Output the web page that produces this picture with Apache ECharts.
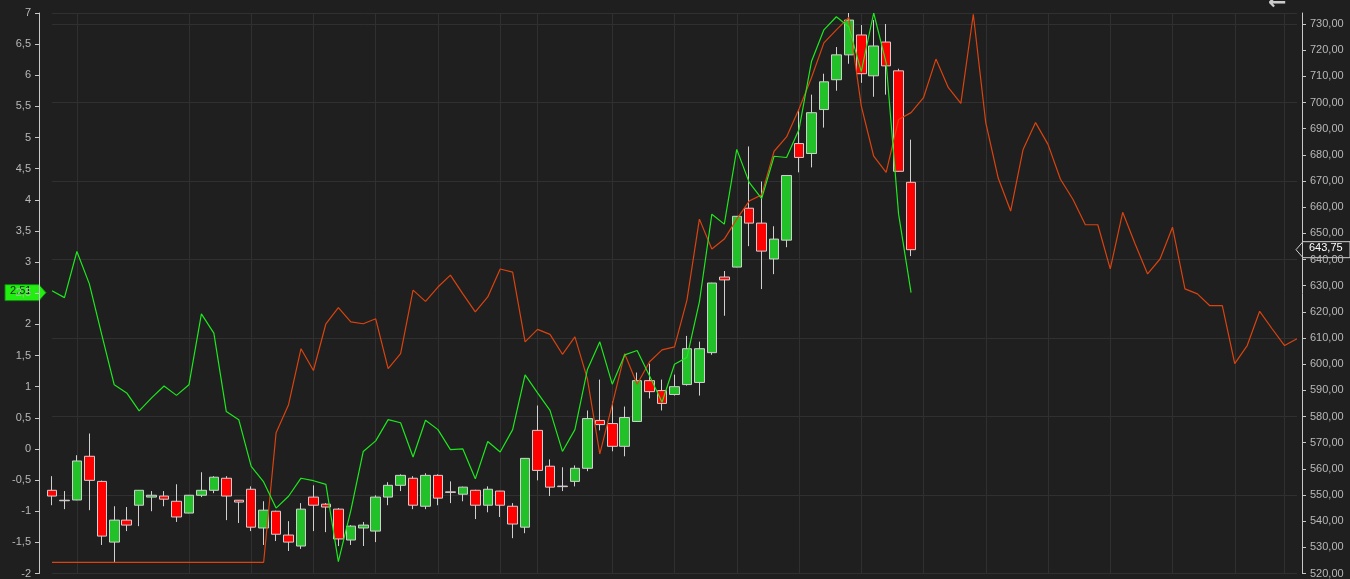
<!DOCTYPE html>
<html><head><meta charset="utf-8">
<script src="https://cdn.jsdelivr.net/npm/echarts@6/dist/echarts.min.js"></script>
<style>html,body{margin:0;background:#1f1f1f}#c{width:1350px;height:579px}</style>
</head><body><div id="c"></div>
<script>
// candles: [open, close, low, high]
const candles = [
[551.8,549.6,546.1,557.2],[548.0,547.8,544.6,551.5],[548.1,563.0,548.0,565.2],[564.8,555.6,544.2,573.5],
[555.2,534.3,530.9,555.5],[532.0,540.4,524.0,545.7],[540.4,538.5,536.2,545.4],[546.1,551.8,538.1,551.9],
[549.2,549.9,543.8,551.5],[549.6,548.4,545.7,551.5],[547.6,541.6,539.7,554.1],[543.1,549.9,543.0,550.0],
[549.9,551.8,549.2,558.7],[551.8,556.8,550.7,557.2],[556.4,549.6,540.4,557.2],[548.0,547.3,539.3,548.1],
[552.2,537.7,536.2,553.3],[537.4,544.2,530.9,547.6],[543.8,535.0,532.4,544.0],[534.7,532.0,528.6,540.0],
[530.5,544.6,529.4,546.9],[549.2,546.1,536.2,553.7],[546.5,545.4,535.8,546.9],[544.6,533.2,530.5,545.0],
[532.8,538.1,530.9,538.5],[537.4,538.5,530.5,539.7],[536.2,549.2,532.0,549.9],[549.2,553.7,546.1,554.9],
[553.7,557.5,551.5,557.9],[556.4,546.1,544.6,557.2],[545.7,557.5,544.6,558.3],[557.5,548.8,546.1,557.9],
[551.2,551.0,546.9,555.2],[550.3,553.0,547.6,553.2],[551.8,546.1,540.8,552.0],[546.1,552.2,543.4,553.3],
[551.5,546.1,541.6,551.6],[545.7,538.9,533.5,546.9],[537.7,564.0,535.4,564.1],[574.7,559.4,555.6,584.2],
[561.0,553.0,549.6,563.6],[553.4,553.2,551.5,560.6],[555.2,560.2,553.3,561.3],[560.2,579.2,559.1,582.3],
[578.5,576.9,574.7,594.1],[577.3,568.6,566.7,585.7],[568.6,579.6,564.8,583.8],[578.1,593.7,578.0,596.8],
[593.7,589.5,586.9,600.2],[589.9,585.0,582.3,594.1],[588.4,591.4,588.0,596.0],[592.2,605.9,591.8,610.8],
[593.0,605.9,588.0,608.6],[604.4,631.0,603.6,631.1],[633.3,632.2,618.5,635.6],[637.1,656.5,637.0,656.6],
[659.6,653.9,645.1,683.2],[653.9,643.2,628.7,669.8],[640.2,647.8,634.4,652.7],[647.4,672.1,644.7,672.2],
[684.3,679.0,673.3,697.3],[680.5,696.1,675.2,703.0],[697.3,707.9,690.4,711.0],[708.7,718.2,704.5,721.2],
[718.2,731.5,714.8,734.2],[725.8,711.0,707.5,729.6],[710.2,721.6,702.2,731.5],[723.1,714.0,703.0,730.0],
[712.1,673.7,673.6,712.9],[669.5,643.75,641.3,685.8]
];
const greenLine = [2.54,2.43,3.17,2.65,1.83,1.03,0.90,0.61,0.82,1.01,0.86,1.03,2.17,1.86,0.60,0.47,-0.28,-0.53,-0.95,-0.76,
-0.47,-0.51,-0.57,-1.81,-0.99,-0.04,0.13,0.47,0.42,-0.13,0.46,0.31,-0.01,0.00,-0.48,0.12,-0.05,0.31,1.19,0.90,
0.62,-0.04,0.31,1.27,1.72,1.04,1.51,1.58,1.17,0.75,1.36,1.47,2.36,3.77,3.61,4.81,4.28,4.02,4.70,4.68,
5.13,6.22,6.73,6.94,6.78,6.06,7.00,6.20,3.77,2.51];
const orangeLine = [-1.82,-1.82,-1.82,-1.82,-1.82,-1.82,-1.82,-1.82,-1.82,-1.82,-1.82,-1.82,-1.82,-1.82,-1.82,-1.82,-1.82,-1.82,
0.26,0.71,1.61,1.26,2.01,2.27,2.04,2.01,2.09,1.29,1.53,2.55,2.37,2.60,2.79,2.49,2.20,2.44,2.89,2.84,1.72,1.92,
1.84,1.52,1.80,1.13,-0.08,0.71,1.53,1.04,1.40,1.59,1.64,2.39,3.69,3.21,3.37,3.69,3.98,4.08,4.78,5.01,
5.46,5.96,6.52,6.73,6.93,5.51,4.70,4.44,5.29,5.40,5.64,6.26,5.80,5.55,6.98,5.24,4.35,3.82,4.81,5.24,
4.89,4.33,4.01,3.60,3.60,2.89,3.80,3.29,2.81,3.05,3.56,2.57,2.49,2.30,2.30,1.37,1.66,2.21,1.93,1.66,1.77];
const categories = orangeLine.map((_, i) => String(i));
const vGridIdx = [2,11,16,21,26,31,36,39,45,50,55,60,65,70,75,80,85,90,95,99];
const lastGreen = 2.51, lastClose = 643.75;

const fmt = v => String(v).replace('.', ',');
const chart = echarts.init(document.getElementById('c'));
const lab = {color:'#b8b8b8', fontSize:11, fontFamily:'Liberation Sans'};
chart.setOption({
  backgroundColor:'#1f1f1f',
  animation:false,
  grid:{left:52,right:53,top:13,bottom:3},
  xAxis:{type:'category',data:categories,boundaryGap:false,
    axisLine:{show:false},axisTick:{show:false},axisLabel:{show:false},
    splitLine:{show:true,interval:(i)=>vGridIdx.includes(i),lineStyle:{color:'#303030'}}},
  yAxis:[
    {type:'value',min:-2,max:7,interval:0.5,position:'left',offset:13,
     axisLine:{show:true,lineStyle:{color:'#c8c8c8'}},axisTick:{show:true,length:4,lineStyle:{color:'#c8c8c8'}},
     axisLabel:{...lab,margin:8,formatter:v=>fmt(v)},splitLine:{show:false}},
    {type:'value',min:520,max:734.2,interval:10,position:'right',offset:5,
     axisLine:{show:true,lineStyle:{color:'#c8c8c8'}},axisTick:{show:true,length:4,lineStyle:{color:'#c8c8c8'}},
     axisLabel:{...lab,margin:8,formatter:v=>v.toFixed(2).replace('.',','),showMaxLabel:false},splitLine:{show:false}},
    {type:'value',min:520,max:734.2,interval:30,position:'right',show:true,
     axisLine:{show:false},axisTick:{show:false},axisLabel:{show:false},
     splitLine:{show:true,lineStyle:{color:'#303030'}}}
  ],
  series:[
    {type:'line',data:orangeLine,yAxisIndex:0,symbol:'none',lineStyle:{color:'#d9430f',width:1.2}},
    {type:'candlestick',data:candles.concat(Array(orangeLine.length-candles.length).fill('-')),yAxisIndex:1,barWidth:10,
     itemStyle:{color:'#22c12a',color0:'#ff0000',borderColor:'#d0d0d0',borderColor0:'#d0d0d0',borderWidth:1}},
    {type:'line',data:greenLine,yAxisIndex:0,symbol:'none',lineStyle:{color:'#1de81d',width:1.2}}
  ]
});
const gy = chart.convertToPixel({yAxisIndex:0}, lastGreen);
const ry = chart.convertToPixel({yAxisIndex:1}, lastClose);
chart.setOption({graphic:[
  {type:'polygon',shape:{points:[[5,gy-8],[39,gy-8],[46,gy],[39,gy+8],[5,gy+8]]},style:{fill:'#22ee11',stroke:'#118811'}},
  {type:'text',left:10,top:gy-7,style:{text:fmt(lastGreen),fill:'#0a2a0a',font:'11px "Liberation Sans"'}},
  {type:'polygon',shape:{points:[[1296,ry],[1303,ry-8],[1350,ry-8],[1350,ry+8],[1303,ry+8]]},style:{fill:'#1f1f1f',stroke:'#d0d0d0'}},
  {type:'text',left:1309,top:ry-7,style:{text:fmt(lastClose),fill:'#ffffff',font:'11px "Liberation Sans"'}},
  {type:'text',left:1268,top:-8,style:{text:'←',fill:'#cccccc',font:'bold 22px "DejaVu Sans"'}}
]});
</script></body></html>
